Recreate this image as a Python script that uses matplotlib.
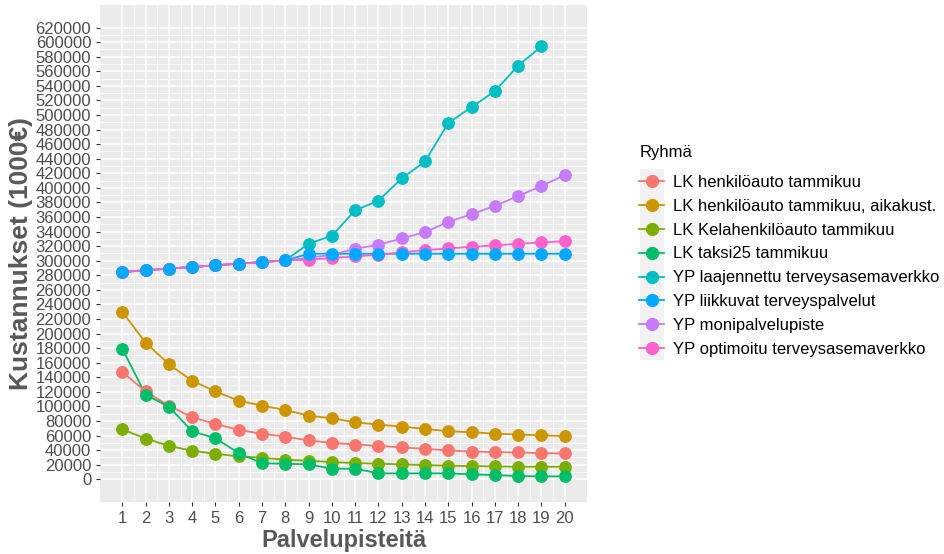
import matplotlib.pyplot as plt
import numpy as np
from matplotlib.patches import Rectangle
from matplotlib.transforms import IdentityTransform

plt.rcParams['font.family'] = ['Liberation Sans', 'DejaVu Sans']

palvelupisteet = list(range(1, 21))

# Kustannukset (1000 €) per ryhmä
lk_henkiloauto = [147500, 120600, 101100, 85100, 76100, 67900, 62400, 58700, 53300, 50100,
                  47800, 46000, 43700, 41900, 39600, 38200, 37300, 36900, 35900, 35500]
lk_henkiloauto_aikakust = [230000, 187600, 158000, 135200, 120600, 107900, 101100, 95200, 87400, 83800,
                           78300, 75100, 72400, 69200, 66000, 64600, 62800, 61500, 60500, 59200]
lk_kela = [68700, 56000, 46000, 39200, 35100, 31400, 29600, 26900, 25500, 23700,
           22300, 21400, 20500, 19600, 18700, 18200, 17800, 17300, 17300, 17300]
lk_taksi25 = [179400, 116100, 99700, 66000, 56400, 35900, 22000, 21400, 20500, 14600,
              14600, 8200, 8200, 8200, 8200, 6800, 5900, 4500, 4100, 4100]
yp_laajennettu = [284600, 286900, 289200, 291400, 293700, 296000, 298200, 300500, 323300, 334300,
                  369200, 382500, 413000, 436200, 489000, 510900, 532700, 567800, 594200]
yp_liikkuvat = [284600, 286900, 289200, 291400, 293700, 296000, 298200, 300500, 309600, 309600,
                309600, 309600, 309600, 309600, 309600, 309600, 309600, 309600, 309600, 309600]
yp_monipalvelu = [284600, 286900, 289200, 291400, 293700, 296000, 298200, 300500, 304000, 308000,
                  316500, 322000, 330600, 339200, 353400, 363800, 375200, 388900, 402500, 417600]
yp_optimoitu = [284600, 286900, 289200, 291400, 293700, 296000, 298200, 300500, 301400, 303700,
                306000, 308300, 311400, 314600, 316900, 319200, 321000, 323300, 325100, 326900]

ryhmat = ["LK henkilöauto tammikuu", "LK henkilöauto tammikuu, aikakust.",
          "LK Kelahenkilöauto tammikuu", "LK taksi25 tammikuu",
          "YP laajennettu terveysasemaverkko", "YP liikkuvat terveyspalvelut",
          "YP monipalvelupiste", "YP optimoitu terveysasemaverkko"]
sarjat = [lk_henkiloauto, lk_henkiloauto_aikakust, lk_kela, lk_taksi25,
          yp_laajennettu, yp_liikkuvat, yp_monipalvelu, yp_optimoitu]
varit = ["#F8766D", "#CD9600", "#7CAE00", "#00BE67",
         "#00BFC4", "#00A9FF", "#C77CFF", "#FF61CC"]
# piirtojärjestys pisteille (sininen päällimmäisenä)
pisteiden_z = [3.0, 3.1, 3.2, 3.3, 3.4, 3.9, 3.5, 3.6]

fig = plt.figure(figsize=(9.45, 5.54), dpi=100)
ax = fig.add_axes([0.106, 0.094, 0.515, 0.897])
ax.set_facecolor("#EBEBEB")

handles = []
for nimi, arvot, vari, z in zip(ryhmat, sarjat, varit, pisteiden_z):
    x = palvelupisteet[:len(arvot)]
    ax.plot(x, arvot, color=vari, lw=1.3, zorder=2)
    ax.scatter(x, arvot, color=vari, s=85, zorder=z, linewidths=0)
    h, = ax.plot([], [], color=vari, lw=1.3, marker="o", markersize=8.5, label=nimi)
    handles.append(h)

ax.set_xlim(0.05, 20.95)
ax.set_ylim(-31000, 651000)
ax.set_xticks(palvelupisteet)
ax.set_xticks(np.arange(1.5, 20.5, 1), minor=True)
ax.set_yticks(np.arange(0, 620001, 20000))
ax.set_yticks(np.arange(10000, 620000, 20000), minor=True)
ax.tick_params(axis="both", which="major", labelsize=12, labelcolor="#4D4D4D",
               color="#333333", length=3, width=0.8)
ax.tick_params(axis="both", which="minor", length=0)
ax.grid(which="major", color="white", lw=1.1)
ax.grid(which="minor", color="white", lw=0.5)
ax.set_axisbelow(True)
for s in ax.spines.values():
    s.set_visible(False)

ax.set_xlabel("Palvelupisteitä", fontsize=17, fontweight="bold", color="#595959", labelpad=2)
ax.set_ylabel("Kustannukset (1000€)", fontsize=19, fontweight="bold", color="#595959", labelpad=2)

fig.text(640 / 945, 1 - 152 / 554, "Ryhmä", fontsize=12, ha="left", va="center")
leg = fig.legend(handles=handles, loc="upper left",
                 bbox_to_anchor=(0.6765, 1 - 175 / 554), frameon=False, fontsize=12,
                 handlelength=1.5, handletextpad=0.5, labelspacing=0.53,
                 borderaxespad=0, borderpad=0)

# harmaat taustalaatikot selitteen avaimille
fig.canvas.draw()
for h in leg.legend_handles:
    bb = h.get_window_extent(fig.canvas.get_renderer())
    cx, cy = (bb.x0 + bb.x1) / 2, (bb.y0 + bb.y1) / 2
    fig.patches.append(Rectangle((cx - 12, cy - 12), 24, 24, transform=IdentityTransform(),
                                 facecolor="#F2F2F2", edgecolor="none", zorder=1))

fig.savefig("out.png", dpi=100)
